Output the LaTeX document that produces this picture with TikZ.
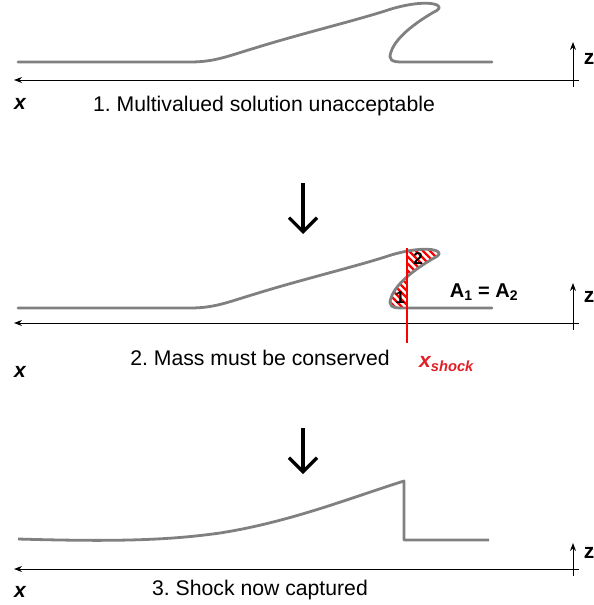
\documentclass[tikz,border=0pt]{standalone}
\usepackage{fontspec}
\setmainfont{Liberation Sans}
\usetikzlibrary{arrows.meta}
\definecolor{wavegray}{RGB}{128,128,128}
\definecolor{shockred}{RGB}{224,32,40}
\frenchspacing
\begin{document}
\begin{tikzpicture}[x=1pt, y=-1pt,
    wave/.style={wavegray, line width=2.8pt, line join=round, line cap=round},
    axis/.style={black, line width=1pt, -{Stealth[length=8pt,width=6pt]}},
    stage/.style={black, line width=3.2pt, -{Straight Barb[length=14pt,width=28pt]}},
    caption/.style={font=\fontsize{21.2}{24}\selectfont},
    xlab/.style={font=\fontsize{21}{24}\selectfont\bfseries\itshape},
    zlab/.style={font=\fontsize{21}{24}\selectfont\bfseries},
    hatch/.style={red, line width=2.4pt}]
  \useasboundingbox (0,0) rectangle (594,605);
  % axes of the three stages
  \foreach \ay / \zt / \xly / \zly / \n in {80/42/104/59/1, 323/283/372/297/2, 569/543/592/553/3} {
    \coordinate (xbeg\n) at (579,\ay);
    \coordinate (xend\n) at (14,\ay);
    \coordinate (zbeg\n) at (573,\ay+7);
    \coordinate (zend\n) at (573,\zt);
    \draw[axis] (xbeg\n) -- (xend\n);
    \draw[axis] (zbeg\n) -- (zend\n);
    \node[xlab] (xlab\n) at (20,\xly) {x};
    \node[zlab] (zlab\n) at (589,\zly) {z};
  }
  % hatched areas
  \begin{scope}[shift={(0,246)}]
    \begin{scope}
      \clip (407,-20) rectangle (460,80);
      \clip (385,11) .. controls (405,4) and (428,1) .. (437,5) .. controls (441,7) and (439,10) .. (434,12)
        .. controls (420,20) and (396,36) .. (391,52) -- cycle;
      \foreach \k in {310,317,...,450} \draw[hatch] (\k,-10) -- ++(80,80);
    \end{scope}
    \begin{scope}
      \clip (360,-20) rectangle (407,80);
      \clip (434,12) .. controls (420,20) and (396,36) .. (391,52) .. controls (388,60) and (392,62) .. (402,62) -- (407,62) -- cycle;
      \foreach \k in {310,317,...,450} \draw[hatch] (\k,-10) -- ++(80,80);
    \end{scope}
  \end{scope}
  % breaking wave
  \foreach \dy in {0,246} {
    \begin{scope}[shift={(0,\dy)}]
      \draw[wave] (18,62) -- (190,62) .. controls (215,62) and (228,56) .. (255,48)
        .. controls (300,34) and (350,22) .. (385,11) .. controls (405,4) and (428,1) .. (437,5)
        .. controls (441,7) and (439,10) .. (434,12) .. controls (420,20) and (396,36) .. (391,52)
        .. controls (388,60) and (392,62) .. (402,62) -- (492,62);
    \end{scope}
  }
  % captured shock
  \draw[wave, line cap=butt] (18,539) .. controls (120,542) and (170,540) .. (220,533)
    .. controls (290,522) and (350,498) .. (404,481) -- (404,540) -- (489,540);
  % shock position
  \coordinate (shtop) at (407,248);
  \coordinate (shbot) at (407,343);
  \draw[red, line width=2.2pt] (shtop) -- (shbot);
  \node[font=\fontsize{17}{20}\selectfont\bfseries] (area2) at (418,259) {2};
  \node[font=\fontsize{17}{20}\selectfont\bfseries] (area1) at (400,298) {1};
  \node[font=\fontsize{20}{24}\selectfont\bfseries] (areq) at (484,292) {A\textsubscript{1} = A\textsubscript{2}};
  \node[shockred, font=\fontsize{21}{24}\selectfont\bfseries\itshape, anchor=west, inner sep=0pt] (xshock) at (419,364) {x\textsubscript{shock}};
  % stage arrows
  \coordinate (st1a) at (303,183);
  \coordinate (st1b) at (303,234);
  \coordinate (st2a) at (303,428);
  \coordinate (st2b) at (303,474);
  \draw[stage] (st1a) -- (st1b);
  \draw[stage] (st2a) -- (st2b);
  % captions
  \node[caption] (cap1) at (264,106) {1. Multivalued solution unacceptable};
  \node[caption] (cap2) at (260,358) {2. Mass must be conserved};
  \node[caption] (cap3) at (260,590) {3. Shock now captured};
\end{tikzpicture}
\end{document}
